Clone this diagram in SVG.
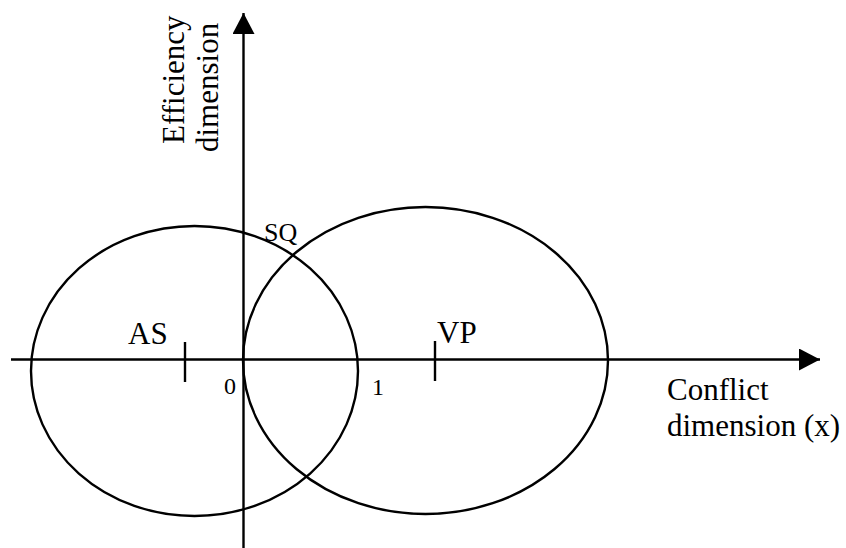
<svg xmlns="http://www.w3.org/2000/svg" width="846" height="548" viewBox="0 0 846 548">
<style>
.ln{fill:none;stroke:#000;stroke-width:2.4}
.t{font-family:"Liberation Serif","Times New Roman",serif;fill:#000}
.big{font-size:31px}
.sm{font-size:24px}
</style>
<defs>
<marker id="ah" markerWidth="22" markerHeight="22" refX="21" refY="11" orient="auto" markerUnits="userSpaceOnUse">
<path d="M0,0 L21,11 L0,22 Z" fill="#000"/>
</marker>
</defs>
<rect width="846" height="548" fill="#fff"/>
<g id="connectors">
<line class="ln" x1="11" y1="359.5" x2="820" y2="359.5" marker-end="url(#ah)"/>
<line class="ln" x1="243.5" y1="548" x2="243.5" y2="13" marker-end="url(#ah)"/>
</g>
<g id="ellipse-AS">
<ellipse class="ln" cx="194.5" cy="371" rx="163.5" ry="145"/>
</g>
<g id="ellipse-VP">
<ellipse class="ln" cx="425.5" cy="360.5" rx="182.5" ry="153.5"/>
</g>
<g id="tick-AS">
<line class="ln" x1="185" y1="342" x2="185" y2="382"/>
<text class="t big" x="128" y="344">AS</text>
</g>
<g id="tick-VP">
<line class="ln" x1="435" y1="341" x2="435" y2="381"/>
<text class="t big" x="437" y="343">VP</text>
</g>
<g id="label-0"><text class="t sm" x="224" y="394">0</text></g>
<g id="label-1"><text class="t sm" x="372" y="395">1</text></g>
<g id="label-SQ"><text class="t" style="font-size:26px" x="264" y="241">SQ</text></g>
<g id="x-label">
<text class="t big" x="667" y="400">Conflict</text>
<text class="t big" x="667" y="436">dimension (x)</text>
</g>
<g id="y-label">
<text class="t big" transform="translate(184,144) rotate(-90)">Efficiency</text>
<text class="t big" transform="translate(218,152) rotate(-90)">dimension</text>
</g>
</svg>
